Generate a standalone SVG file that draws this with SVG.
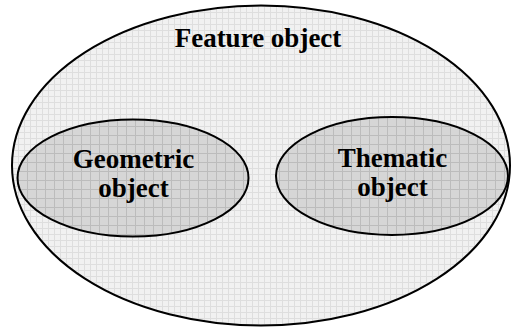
<svg xmlns="http://www.w3.org/2000/svg" width="511" height="328" viewBox="0 0 511 328">
<defs>
<pattern id="gridOuter" width="6" height="6" patternUnits="userSpaceOnUse">
<rect width="6" height="6" fill="#f1f1f1"/>
<path d="M0 0.5H6M0.5 0V6" stroke="#dedede" stroke-width="1" fill="none"/>
</pattern>
<pattern id="gridInner" width="9" height="9" patternUnits="userSpaceOnUse">
<rect width="9" height="9" fill="#d6d6d6"/>
<path d="M0 0.5H9M0.5 0V9" stroke="#bcbcbc" stroke-width="1" fill="none"/>
</pattern>
</defs>
<style>
.shape{stroke:#000;stroke-width:2}
.label{font-family:"Liberation Serif","Times New Roman",serif;font-weight:bold;font-size:27px;fill:#000;text-anchor:middle}
</style>
<rect width="511" height="328" fill="#ffffff"/>
<g id="feature-object">
<ellipse class="shape" cx="261" cy="165.5" rx="249" ry="160" fill="url(#gridOuter)"/>
<text class="label" x="258" y="47">Feature object</text>
</g>
<g id="geometric-object">
<ellipse class="shape" cx="133" cy="178" rx="115.5" ry="58.5" fill="url(#gridInner)"/>
<text class="label" x="133.5" y="168">Geometric</text>
<text class="label" x="133.5" y="197">object</text>
</g>
<g id="thematic-object">
<ellipse class="shape" cx="392" cy="176" rx="116" ry="59" fill="url(#gridInner)"/>
<text class="label" x="392.5" y="167">Thematic</text>
<text class="label" x="392.5" y="196">object</text>
</g>
<g id="connectors"/>
</svg>
